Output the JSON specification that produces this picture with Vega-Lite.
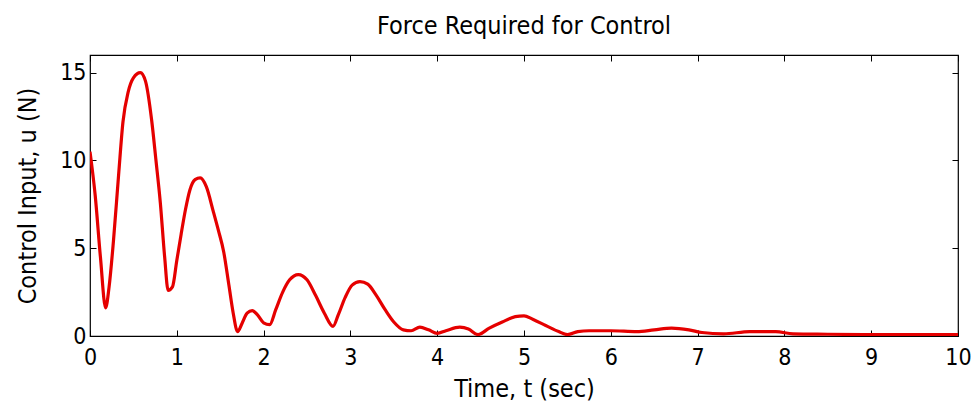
{
  "$schema": "https://vega.github.io/schema/vega-lite/v6.json",
  "autosize": {"type": "none"},
  "padding": {"left": 90, "top": 55, "right": 15, "bottom": 73},
  "width": 868,
  "height": 281,
  "background": "white",
  "title": {"text": "Force Required for Control", "font": "DejaVu Sans Condensed, Liberation Sans", "fontSize": 25, "fontWeight": "normal", "color": "#000", "offset": 16, "anchor": "middle"},
  "config": {
    "view": {"stroke": "#000", "strokeWidth": 1.2},
    "axis": {"grid": false, "domain": false, "tickColor": "#000", "tickSize": -6, "tickWidth": 1, "labelColor": "#000", "titleColor": "#000", "labelFont": "DejaVu Sans Condensed, Liberation Sans", "titleFont": "DejaVu Sans Condensed, Liberation Sans", "labelFontSize": 23, "titleFontSize": 25, "titleFontWeight": "normal"}
  },
  "data": {"values": [
    {"t": 0.0, "u": 10.5},
    {"t": 0.06, "u": 8.0},
    {"t": 0.12, "u": 4.5},
    {"t": 0.18, "u": 1.6},
    {"t": 0.22, "u": 2.8},
    {"t": 0.27, "u": 5.4},
    {"t": 0.33, "u": 9.2},
    {"t": 0.38, "u": 12.2},
    {"t": 0.44, "u": 13.9},
    {"t": 0.5, "u": 14.7},
    {"t": 0.58, "u": 15.0},
    {"t": 0.64, "u": 14.5},
    {"t": 0.71, "u": 12.3},
    {"t": 0.76, "u": 10.0},
    {"t": 0.81, "u": 7.6},
    {"t": 0.86, "u": 4.5},
    {"t": 0.9, "u": 2.6},
    {"t": 0.95, "u": 2.8},
    {"t": 1.0, "u": 4.3},
    {"t": 1.05, "u": 5.8},
    {"t": 1.1, "u": 7.2},
    {"t": 1.15, "u": 8.3},
    {"t": 1.21, "u": 8.9},
    {"t": 1.27, "u": 9.0},
    {"t": 1.34, "u": 8.5},
    {"t": 1.42, "u": 7.1},
    {"t": 1.48, "u": 6.0},
    {"t": 1.54, "u": 4.8},
    {"t": 1.6, "u": 2.9},
    {"t": 1.65, "u": 1.3},
    {"t": 1.7, "u": 0.25},
    {"t": 1.75, "u": 0.7},
    {"t": 1.81, "u": 1.3},
    {"t": 1.87, "u": 1.45},
    {"t": 1.93, "u": 1.2},
    {"t": 2.0, "u": 0.75},
    {"t": 2.07, "u": 0.65},
    {"t": 2.14, "u": 1.5},
    {"t": 2.22, "u": 2.5},
    {"t": 2.3, "u": 3.2},
    {"t": 2.4, "u": 3.5},
    {"t": 2.5, "u": 3.2},
    {"t": 2.6, "u": 2.3},
    {"t": 2.7, "u": 1.3},
    {"t": 2.8, "u": 0.55},
    {"t": 2.86, "u": 1.2},
    {"t": 2.94, "u": 2.2},
    {"t": 3.02, "u": 2.9},
    {"t": 3.11, "u": 3.1},
    {"t": 3.2, "u": 2.95},
    {"t": 3.3, "u": 2.3},
    {"t": 3.4, "u": 1.5},
    {"t": 3.5, "u": 0.8},
    {"t": 3.61, "u": 0.35},
    {"t": 3.7, "u": 0.3},
    {"t": 3.8, "u": 0.5},
    {"t": 3.9, "u": 0.35},
    {"t": 4.0, "u": 0.15},
    {"t": 4.1, "u": 0.3},
    {"t": 4.26, "u": 0.5},
    {"t": 4.36, "u": 0.4},
    {"t": 4.47, "u": 0.08},
    {"t": 4.6, "u": 0.45},
    {"t": 4.75, "u": 0.8},
    {"t": 4.9, "u": 1.1},
    {"t": 5.0, "u": 1.15},
    {"t": 5.1, "u": 0.95},
    {"t": 5.25, "u": 0.6},
    {"t": 5.4, "u": 0.25},
    {"t": 5.5, "u": 0.08},
    {"t": 5.62, "u": 0.25},
    {"t": 5.75, "u": 0.3},
    {"t": 6.0, "u": 0.3},
    {"t": 6.3, "u": 0.25},
    {"t": 6.5, "u": 0.35},
    {"t": 6.7, "u": 0.45},
    {"t": 6.9, "u": 0.35},
    {"t": 7.05, "u": 0.2},
    {"t": 7.3, "u": 0.12},
    {"t": 7.6, "u": 0.25},
    {"t": 7.9, "u": 0.25},
    {"t": 8.1, "u": 0.12},
    {"t": 8.5, "u": 0.1},
    {"t": 9.0, "u": 0.08},
    {"t": 9.5, "u": 0.08},
    {"t": 10.0, "u": 0.08}
  ]},
  "layer": [
    {
      "mark": {"type": "line", "color": "#e50000", "strokeWidth": 3.2, "clip": true, "interpolate": "monotone"},
      "encoding": {
        "x": {"field": "t", "type": "quantitative", "scale": {"domain": [0, 10], "nice": false, "zero": false},
          "axis": {"orient": "bottom", "values": [0,1,2,3,4,5,6,7,8,9,10], "title": "Time, t (sec)", "labelPadding": 16, "titlePadding": 7, "labelFlush": false}},
        "y": {"field": "u", "type": "quantitative", "scale": {"domain": [0, 16], "nice": false, "zero": false},
          "axis": {"orient": "left", "values": [0, 5, 10, 15], "title": "Control Input, u (N)", "labelPadding": 10, "titlePadding": 19}}
      }
    },
    {
      "mark": {"type": "line", "opacity": 0},
      "encoding": {
        "x": {"field": "t", "type": "quantitative", "scale": {"domain": [0, 10], "nice": false, "zero": false},
          "axis": {"orient": "top", "values": [0,1,2,3,4,5,6,7,8,9,10], "labels": false, "title": null}},
        "y": {"field": "u", "type": "quantitative", "scale": {"domain": [0, 16], "nice": false, "zero": false},
          "axis": {"orient": "right", "values": [0, 5, 10, 15], "labels": false, "title": null}}
      }
    }
  ],
  "resolve": {"axis": {"x": "independent", "y": "independent"}}
}
